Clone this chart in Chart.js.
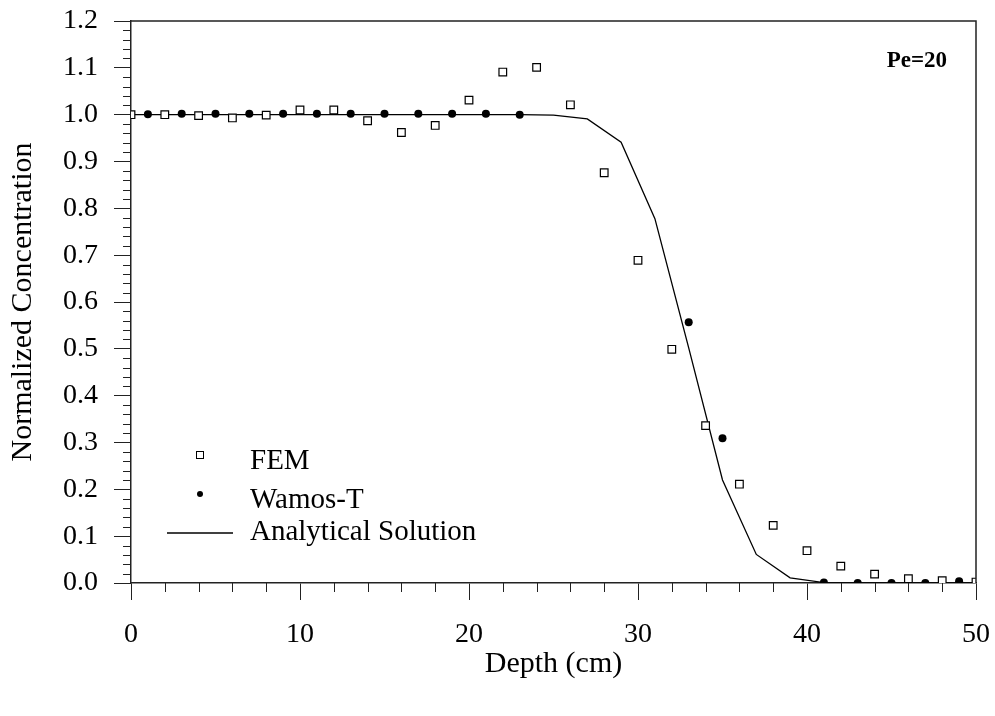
<!DOCTYPE html>
<html>
<head>
<meta charset="utf-8">
<script src="https://cdn.jsdelivr.net/npm/chart.js@4.4.1/dist/chart.umd.min.js"></script>
<style>
  html, body { margin: 0; padding: 0; background: #fff; }
  canvas { display: block; }
</style>
</head>
<body>
<canvas id="concChart" width="995" height="716"></canvas>
<script>
// depth (cm) and normalized concentration
const femDepth = [0, 2, 4, 6, 8, 10, 12, 14, 16, 18, 20, 22, 24, 26, 28, 30, 32, 34, 36, 38, 40, 42, 44, 46, 48, 50];
const femConc = [1.000, 1.000, 0.998, 0.993, 0.999, 1.010, 1.010, 0.987, 0.962, 0.977, 1.031, 1.091, 1.101, 1.021, 0.876, 0.689, 0.499, 0.336, 0.211, 0.123, 0.069, 0.036, 0.019, 0.009, 0.005, 0.002];

const wamosDepth = [1, 3, 5, 7, 9, 11, 13, 15, 17, 19, 21, 23, 33, 35, 41, 43, 45, 47, 49];
const wamosConc = [1.001, 1.002, 1.002, 1.002, 1.002, 1.002, 1.002, 1.002, 1.002, 1.002, 1.002, 1.000, 0.557, 0.309, 0.001, 0.000, 0.000, 0.000, 0.004];

const analyticDepth = [0, 23, 25, 27, 29, 31, 33, 35, 37, 39, 41, 43, 50];
const analyticConc = [1.000, 1.000, 0.999, 0.991, 0.941, 0.778, 0.502, 0.220, 0.061, 0.011, 0.001, 0.000, 0.000];

const xTicks = [0, 10, 20, 30, 40, 50];
const yTicks = [0, 0.1, 0.2, 0.3, 0.4, 0.5, 0.6, 0.7, 0.8, 0.9, 1.0, 1.1, 1.2];

const legendLabels = ["FEM", "Wamos-T", "Analytical Solution"];
const noteText = "Pe=20";

const serif = "'Liberation Serif', 'Times New Roman', serif";
const axisColor = "#222";

function toPoints(xs, ys) {
  return xs.map((x, i) => ({ x: x, y: ys[i] }));
}

// frame, minor ticks, inside legend and the Pe note
const extras = {
  id: "extras",
  afterDraw(chart) {
    const ctx = chart.ctx;
    const area = chart.chartArea;
    const xs = chart.scales.x;
    const ys = chart.scales.y;

    ctx.save();
    ctx.strokeStyle = axisColor;
    ctx.lineWidth = 1.5;
    ctx.beginPath();
    ctx.moveTo(area.left, area.top);
    ctx.lineTo(area.right, area.top);
    ctx.lineTo(area.right, area.bottom);
    ctx.stroke();

    ctx.lineWidth = 1;
    ctx.beginPath();
    for (let i = 0; i <= 25; i++) {
      if (i % 5 === 0) continue;
      const px = Math.round(xs.getPixelForValue(i * 2)) + 0.5;
      ctx.moveTo(px, area.bottom);
      ctx.lineTo(px, area.bottom + 9);
    }
    for (let i = 0; i <= 60; i++) {
      if (i % 5 === 0) continue;
      const py = Math.round(ys.getPixelForValue(i / 50)) + 0.5;
      ctx.moveTo(area.left - 8, py);
      ctx.lineTo(area.left, py);
    }
    ctx.stroke();

    // legend
    ctx.fillStyle = "#000";
    ctx.strokeStyle = "#000";
    ctx.lineWidth = 1;
    ctx.strokeRect(196.5, 451.5, 7, 7);
    ctx.beginPath();
    ctx.arc(200, 494, 3, 0, Math.PI * 2);
    ctx.fill();
    ctx.lineWidth = 1.3;
    ctx.beginPath();
    ctx.moveTo(167, 533);
    ctx.lineTo(233, 533);
    ctx.stroke();

    ctx.font = "29px " + serif;
    ctx.textAlign = "left";
    ctx.textBaseline = "alphabetic";
    ctx.fillText(legendLabels[0], 250, 469);
    ctx.fillText(legendLabels[1], 250, 508);
    ctx.fillText(legendLabels[2], 250, 540);

    ctx.font = "bold 23px " + serif;
    ctx.textAlign = "right";
    ctx.fillText(noteText, 947, 67);
    ctx.restore();
  },
};

const ctx = document.getElementById("concChart").getContext("2d");
new Chart(ctx, {
  type: "scatter",
  data: {
    datasets: [
      {
        label: legendLabels[2],
        data: toPoints(analyticDepth, analyticConc),
        showLine: true,
        borderColor: "#000",
        borderWidth: 1.3,
        pointRadius: 0,
        tension: 0,
        order: 3,
      },
      {
        label: legendLabels[0],
        data: toPoints(femDepth, femConc),
        pointStyle: "rect",
        pointRadius: 5.4,
        backgroundColor: "#fff",
        borderColor: "#000",
        borderWidth: 1.2,
        order: 1,
      },
      {
        label: legendLabels[1],
        data: toPoints(wamosDepth, wamosConc),
        pointStyle: "circle",
        pointRadius: 4,
        backgroundColor: "#000",
        borderColor: "#000",
        borderWidth: 0,
        order: 2,
      },
    ],
  },
  options: {
    responsive: false,
    animation: false,
    devicePixelRatio: 1,
    layout: { padding: { top: 21, right: 19, left: 0, bottom: 0 } },
    plugins: {
      legend: { display: false },
      tooltip: { enabled: false },
    },
    scales: {
      x: {
        type: "linear",
        min: 0,
        max: 50,
        afterBuildTicks: (scale) => {
          scale.ticks = xTicks.map((v) => ({ value: v }));
        },
        afterFit: (scale) => {
          scale.height = 133;
          scale.paddingLeft = 0;
          scale.paddingRight = 0;
        },
        ticks: {
          color: "#000",
          font: { family: serif, size: 28 },
          padding: 18,
          maxRotation: 0,
        },
        grid: {
          drawOnChartArea: false,
          tickLength: 17,
          tickColor: axisColor,
          tickWidth: 1,
        },
        border: { color: axisColor, width: 1.5 },
        title: {
          display: true,
          text: "Depth (cm)",
          color: "#000",
          font: { family: serif, size: 30 },
          padding: { top: 0, bottom: 34 },
        },
      },
      y: {
        type: "linear",
        min: 0,
        max: 1.2,
        afterBuildTicks: (scale) => {
          scale.ticks = yTicks.map((v) => ({ value: v }));
        },
        afterFit: (scale) => {
          scale.width = 131;
          scale.paddingTop = 0;
          scale.paddingBottom = 0;
        },
        ticks: {
          color: "#000",
          font: { family: serif, size: 28 },
          padding: 16,
          callback: (v) => Number(v).toFixed(1),
        },
        grid: {
          drawOnChartArea: false,
          tickLength: 17,
          tickColor: axisColor,
          tickWidth: 1,
        },
        border: { color: axisColor, width: 1.5 },
        title: {
          display: true,
          text: "Normalized Concentration",
          color: "#000",
          font: { family: serif, size: 30 },
          padding: { top: 5, bottom: 0 },
        },
      },
    },
  },
  plugins: [extras],
});
</script>
</body>
</html>
